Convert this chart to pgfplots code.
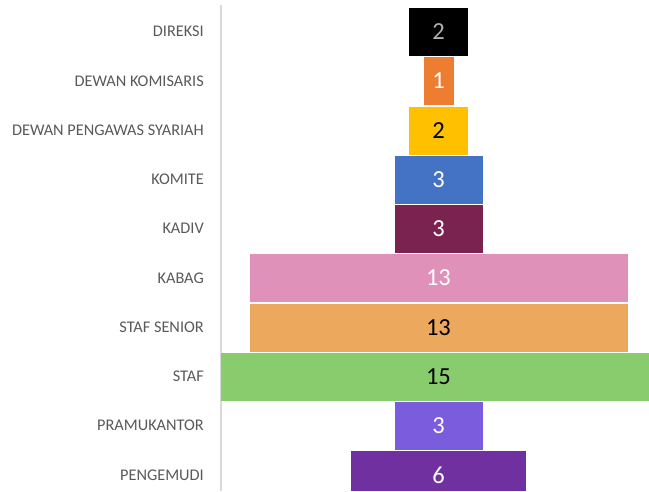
\documentclass[border=0pt]{standalone}
\usepackage{pgfplots}
\pgfplotsset{compat=1.18}
\usepackage{fontspec}
\setmainfont{Carlito}
\definecolor{cDir}{HTML}{000000}
\definecolor{cKom}{HTML}{ED7D31}
\definecolor{cDps}{HTML}{FFC000}
\definecolor{cKomite}{HTML}{4472C4}
\definecolor{cKadiv}{HTML}{7A2250}
\definecolor{cKabag}{HTML}{DF91B9}
\definecolor{cSenior}{HTML}{ECA95D}
\definecolor{cStaf}{HTML}{88CC6E}
\definecolor{cPram}{HTML}{7A5CDC}
\definecolor{cPeng}{HTML}{7030A0}
\definecolor{labelgray}{HTML}{595959}
\definecolor{axisgray}{HTML}{D9D9D9}
\definecolor{numgray}{HTML}{B0B0B0}
% #1 = row position, #2 = value, #3 = bar colour, #4 = label colour
\newcommand{\fbar}[4]{%
  \addplot[xbar, bar shift=0pt, bar width=47pt, fill=#3, draw=#3, line width=0.2pt]
    table[x expr=\thisrow{v}/2, y=y, row sep=\\]{y v\\ #1 #2\\};
  \addplot[xbar, bar shift=0pt, bar width=47pt, fill=#3, draw=#3, line width=0.2pt]
    table[x expr=-\thisrow{v}/2, y=y, row sep=\\]{y v\\ #1 #2\\};
  \addplot[draw=none, mark=none, nodes near coords={#2},
    nodes near coords style={anchor=center, inner sep=0pt, text=#4, font=\fontsize{24.5}{24.5}\selectfont}]
    coordinates {(0,#1)};
}
\begin{document}
\begin{tikzpicture}
\begin{axis}[
  scale only axis,
  width=428pt, height=486pt,
  xmin=-7.5, xmax=7.26,
  ymin=-0.325, ymax=9.54,
  hide x axis,
  axis y line*=left,
  y axis line style={draw=axisgray, line width=1.5pt},
  ytick={0,...,9},
  yticklabels={PENGEMUDI,PRAMUKANTOR,STAF,STAF SENIOR,KABAG,KADIV,KOMITE,DEWAN PENGAWAS SYARIAH,DEWAN KOMISARIS,DIREKSI},
  ytick style={draw=none},
  major tick length=0pt,
  yticklabel style={font=\fontsize{16.3}{19}\selectfont, text=labelgray, inner sep=0pt, xshift=-17pt},
  clip=true,
]
\fbar{9}{2}{cDir}{numgray}
\fbar{8}{1}{cKom}{white}
\fbar{7}{2}{cDps}{black}
\fbar{6}{3}{cKomite}{white}
\fbar{5}{3}{cKadiv}{white}
\fbar{4}{13}{cKabag}{white}
\fbar{3}{13}{cSenior}{black}
\fbar{2}{15}{cStaf}{black}
\fbar{1}{3}{cPram}{white}
\fbar{0}{6}{cPeng}{white}
\end{axis}
\path ([xshift=-221pt]current axis.south west) rectangle ([yshift=5pt]current axis.north east);
\end{tikzpicture}
\end{document}
